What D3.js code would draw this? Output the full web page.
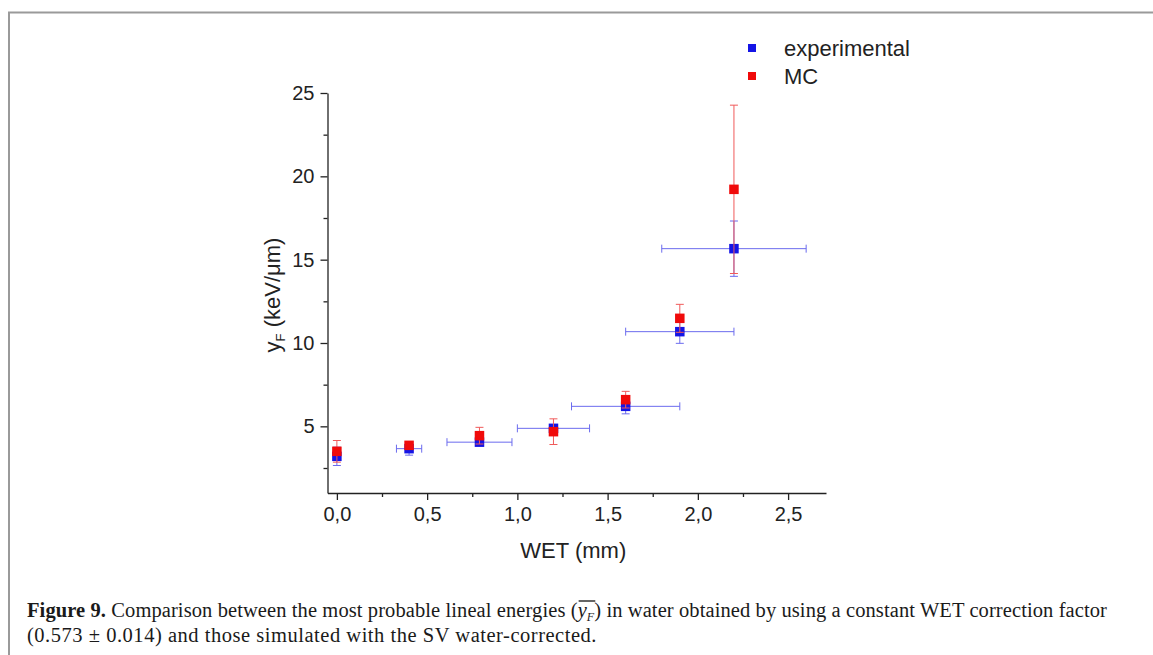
<!DOCTYPE html>
<html>
<head>
<meta charset="utf-8">
<script src="https://cdn.jsdelivr.net/npm/d3@7/dist/d3.min.js"></script>
<style>
  html, body { margin: 0; padding: 0; background: #fff; }
  svg { display: block; }
  .tick text { font-family: "Liberation Sans", Arial, sans-serif; font-size: 20px; fill: #222; }
  .cap { white-space: pre; }
</style>
</head>
<body>
<div id="chart"></div>
<script>
// WET values (mm) and horizontal error of the experimental points
const wet = [0, 0.4, 0.79, 1.2, 1.6, 1.9, 2.2];
const wetErr = [0, 0.07, 0.18, 0.2, 0.3, 0.3, 0.4];
// experimental y_F (keV/um) and error
const expY = [3.2, 3.66, 4.05, 4.88, 6.2, 10.68, 15.66];
const expErr = [0.55, 0.39, 0.15, 0.15, 0.45, 0.7, 1.66];
// Monte Carlo y_F and error
const mcY = [3.5, 3.86, 4.44, 4.68, 6.6, 11.48, 19.22];
const mcErr = [0.65, 0.15, 0.5, 0.77, 0.5, 0.84, 5.05];

const xTicks = [0, 0.5, 1, 1.5, 2, 2.5];
const xMinor = [0.25, 0.75, 1.25, 1.75, 2.25];
const yTicks = [5, 10, 15, 20, 25];
const yMinor = [2.5, 7.5, 12.5, 17.5, 22.5];

const seriesNames = ["experimental", "MC"];
const seriesColors = ["#1414e6", "#f00a0a"];
const barColors = ["#6b6bee", "#f05a5a"];

const width = 1153, height = 655;
const fmt = d => d3.format(".1f")(d).replace(".", ",");
const sans = "'Liberation Sans', Arial, sans-serif";

const svg = d3.select("#chart").append("svg")
  .attr("width", width)
  .attr("height", height);

// figure frame (top + left rule)
svg.append("path")
  .attr("d", "M9,655 V12.5 H1153")
  .attr("fill", "none")
  .attr("stroke", "#9a9a9a")
  .attr("stroke-width", 2);

const x = d3.scaleLinear().domain([-0.052, 2.71]).range([327.5, 826]);
const y = d3.scaleLinear().domain([1, 25]).range([493, 93]);

// axes
svg.append("g")
  .attr("transform", `translate(0,${y(1)})`)
  .call(d3.axisBottom(x).tickValues(xTicks).tickFormat(fmt).tickSize(7).tickSizeOuter(0).tickPadding(7));
svg.append("g")
  .attr("transform", `translate(0,${y(1)})`)
  .call(d3.axisBottom(x).tickValues(xMinor).tickFormat("").tickSize(4).tickSizeOuter(0))
  .select(".domain").remove();

svg.append("g")
  .attr("transform", `translate(${x(-0.052)},0)`)
  .call(d3.axisLeft(y).tickValues(yTicks).tickSize(7).tickSizeOuter(0).tickPadding(6));
svg.append("g")
  .attr("transform", `translate(${x(-0.052)},0)`)
  .call(d3.axisLeft(y).tickValues(yMinor).tickFormat("").tickSize(4).tickSizeOuter(0))
  .select(".domain").remove();

svg.selectAll(".domain, .tick line").attr("stroke", "#222").attr("stroke-width", 1.3);

// axis titles
svg.append("text")
  .attr("x", x(1.31)).attr("y", 558)
  .attr("text-anchor", "middle")
  .style("font-family", sans)
  .style("font-size", "22px").attr("fill", "#222")
  .text("WET (mm)");

const yl = svg.append("text")
  .attr("transform", "translate(280,295) rotate(-90)")
  .attr("text-anchor", "middle")
  .style("font-family", sans)
  .style("font-size", "22px").attr("fill", "#222");
yl.append("tspan").text("y");
yl.append("tspan").attr("font-size", "13px").attr("dy", 5).text("F");
yl.append("tspan").attr("dy", -5).text(" (keV/\u03bcm)");

// data in rows
const rows = wet.map((w, i) => ({
  w, wErr: wetErr[i], e: expY[i], eErr: expErr[i], m: mcY[i], mErr: mcErr[i]
}));

const cap = 4;
function errorBars(g, getY, getErr, getXErr, color) {
  const bars = g.selectAll("g").data(rows).join("g")
    .attr("stroke", color).attr("stroke-width", 1).attr("fill", "none");
  bars.append("line")
    .attr("x1", d => x(d.w)).attr("x2", d => x(d.w))
    .attr("y1", d => y(getY(d) - getErr(d))).attr("y2", d => y(getY(d) + getErr(d)));
  bars.append("line")
    .attr("x1", d => x(d.w) - cap).attr("x2", d => x(d.w) + cap)
    .attr("y1", d => y(getY(d) + getErr(d))).attr("y2", d => y(getY(d) + getErr(d)));
  bars.append("line")
    .attr("x1", d => x(d.w) - cap).attr("x2", d => x(d.w) + cap)
    .attr("y1", d => y(getY(d) - getErr(d))).attr("y2", d => y(getY(d) - getErr(d)));
  if (getXErr) {
    const hx = bars.filter(d => getXErr(d) > 0);
    hx.append("line")
      .attr("x1", d => x(d.w - getXErr(d))).attr("x2", d => x(d.w + getXErr(d)))
      .attr("y1", d => y(getY(d))).attr("y2", d => y(getY(d)));
    hx.append("line")
      .attr("x1", d => x(d.w - getXErr(d))).attr("x2", d => x(d.w - getXErr(d)))
      .attr("y1", d => y(getY(d)) - cap).attr("y2", d => y(getY(d)) + cap);
    hx.append("line")
      .attr("x1", d => x(d.w + getXErr(d))).attr("x2", d => x(d.w + getXErr(d)))
      .attr("y1", d => y(getY(d)) - cap).attr("y2", d => y(getY(d)) + cap);
  }
}

const sq = 9.5;
errorBars(svg.append("g"), d => d.e, d => d.eErr, d => d.wErr, barColors[0]);
svg.append("g").selectAll("rect").data(rows).join("rect")
  .attr("x", d => x(d.w) - sq / 2).attr("y", d => y(d.e) - sq / 2)
  .attr("width", sq).attr("height", sq).attr("fill", seriesColors[0]);

errorBars(svg.append("g"), d => d.m, d => d.mErr, null, barColors[1]);
svg.append("g").selectAll("rect").data(rows).join("rect")
  .attr("x", d => x(d.w) - sq / 2).attr("y", d => y(d.m) - sq / 2)
  .attr("width", sq).attr("height", sq).attr("fill", seriesColors[1]);

// legend
const legend = svg.append("g").selectAll("g").data(seriesNames).join("g")
  .attr("transform", (d, i) => `translate(752,${48 + i * 28})`);
legend.append("rect")
  .attr("x", -4).attr("y", -4).attr("width", 8).attr("height", 8)
  .attr("fill", (d, i) => seriesColors[i]);
legend.append("text")
  .attr("x", 32).attr("y", 8)
  .style("font-family", sans)
  .style("font-size", "22px").attr("fill", "#222")
  .text(d => d);

// caption
const capFont = "'Liberation Serif', 'Times New Roman', serif";
const capSize = 20.5;
const capG = svg.append("g");
let cx = 27;
function capText(str, opts = {}, spacing = 0) {
  const t = capG.append("text")
    .attr("class", "cap")
    .attr("x", cx).attr("y", opts.y || 617)
    .style("font-family", capFont)
    .style("font-size", (opts.size || capSize) + "px")
    .style("font-weight", opts.bold ? "bold" : "normal")
    .style("font-style", opts.italic ? "italic" : "normal")
    .style("letter-spacing", spacing + "px")
    .attr("fill", "#1a1a1a")
    .text(str);
  cx += t.node().getComputedTextLength();
  return t;
}
const line1 = [
  ["Figure 9.", { bold: true }],
  [" Comparison between the most probable lineal energies (", {}],
  ["y", { italic: true }],
  ["F", { italic: true, size: 12, y: 621 }],
  [") in water obtained by using a constant WET correction factor", {}]
];
const line2 = "(0.573 \u00b1 0.014) and those simulated with the SV water-corrected.";

function drawLine1(spacing) {
  cx = 27;
  let yStart = 0, yEnd = 0;
  line1.forEach(([s, o], i) => {
    if (i === 2) yStart = cx;
    capText(s, o, spacing);
    if (i === 3) yEnd = cx;
  });
  capG.append("line")
    .attr("x1", yStart + 1).attr("x2", yEnd + 1)
    .attr("y1", 601).attr("y2", 601)
    .attr("stroke", "#111").attr("stroke-width", 1.3);
  return cx - 27;
}
function drawLine2(spacing) {
  cx = 27;
  capText(line2, { y: 642 }, spacing);
  return cx - 27;
}

// fit both caption lines to the width they take in the figure
const n1 = line1.reduce((a, l) => a + l[0].length, 0);
const w1 = drawLine1(0), w2 = drawLine2(0);
capG.selectAll("*").remove();
drawLine1((1080 - w1) / n1);
drawLine2((570 - w2) / line2.length);
</script>
</body>
</html>
